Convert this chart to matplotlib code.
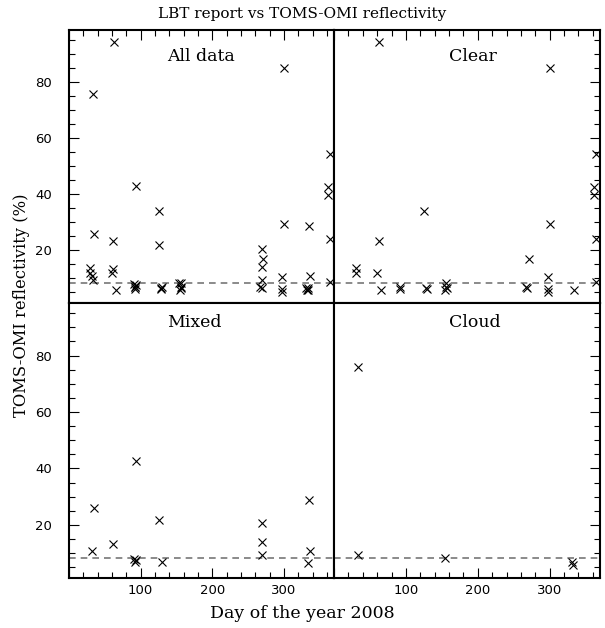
import matplotlib
matplotlib.use('Agg')
import matplotlib.pyplot as plt
from matplotlib.ticker import MultipleLocator, FixedLocator

# Clear sky reports: day of year, reflectivity (%)
clear_day = [30, 30, 60, 63, 62, 66, 92, 92, 128, 129, 125, 156, 156, 157, 155,
             267, 269, 271, 298, 298, 298, 300, 300, 334, 364, 362, 362, 364, 364]
clear_refl = [13.8, 11.8, 11.8, 94.2, 23.4, 5.7, 6.8, 6.2, 6.6, 6.3, 34.0, 8.3, 7.0, 6.5, 5.9,
              6.9, 6.6, 17.0, 10.5, 6.3, 5.2, 84.9, 29.5, 5.7, 54.5, 42.6, 39.9, 24.2, 8.8]

# Mixed reports
mixed_day = [35, 32, 61, 93, 91, 92, 93, 126, 130, 269, 270, 269, 335, 336, 333]
mixed_refl = [25.9, 10.8, 13.3, 42.8, 7.9, 7.0, 7.5, 21.8, 7.0, 20.6, 14.1, 9.4, 28.8, 10.9, 6.4]

# Cloudy reports
cloud_day = [34, 33, 154, 331, 332]
cloud_refl = [75.8, 9.4, 8.2, 6.7, 5.8]

clear_level = 8.2

all_day = clear_day + mixed_day + cloud_day
all_refl = clear_refl + mixed_refl + cloud_refl

fig = plt.figure(figsize=(6.05, 6.28), dpi=100)

x0, xm, x1 = 69/605, 334/605, 600/605
y1, ym, y0 = 1 - 30/628, 1 - 303/628, 1 - 578/628

# name, data, rect, position, label anchor
panels = [
    ('All data', all_day, all_refl, [x0, ym, xm - x0, y1 - ym], 'tl', (0.37, 0.886)),
    ('Clear', clear_day, clear_refl, [xm, ym, x1 - xm, y1 - ym], 'tr', (0.432, 0.886)),
    ('Mixed', mixed_day, mixed_refl, [x0, y0, xm - x0, ym - y0], 'bl', (0.37, 0.913)),
    ('Cloud', cloud_day, cloud_refl, [xm, y0, x1 - xm, ym - y0], 'br', (0.432, 0.913)),
]

for name, dx, dy, rect, pos, lab in panels:
    ax = fig.add_axes(rect)
    ax.plot(dx, dy, 'x', color='black', markersize=5.5, markeredgewidth=0.8)
    ax.axhline(clear_level, color='#777777', linestyle=(0, (4, 3)), linewidth=1.2, zorder=0)
    ax.set_xlim(0, 370)
    ax.set_ylim(1.2, 98.6)
    ax.xaxis.set_major_locator(FixedLocator([0, 100, 200, 300]))
    ax.xaxis.set_minor_locator(MultipleLocator(20))
    ax.yaxis.set_major_locator(MultipleLocator(20))
    ax.yaxis.set_minor_locator(MultipleLocator(5))
    for s in ax.spines.values():
        s.set_linewidth(1.5)

    top = pos[0] == 't'
    left = pos[1] == 'l'
    ax.tick_params(which='both', direction='in', width=0.8,
                   top=top, bottom=not top, left=left, right=not left,
                   labeltop=False, labelbottom=not top,
                   labelleft=left, labelright=False,
                   labelsize=9.5)
    ax.tick_params(which='major', length=7.5)
    ax.tick_params(which='minor', length=4)
    ax.tick_params(axis='y', which='major', pad=12)
    ax.tick_params(axis='x', which='major', pad=4)
    ax.set_xticklabels(['', '100', '200', '300'])
    ax.text(lab[0], lab[1], name, transform=ax.transAxes, ha='left', va='baseline',
            fontsize=12.5, family='DejaVu Serif')

fig.text(0.5, 1 - 14/628, 'LBT report vs TOMS-OMI reflectivity', ha='center', va='center',
         fontsize=11, family='DejaVu Serif')
fig.text(0.5, 1 - 613/628, 'Day of the year 2008', ha='center', va='center',
         fontsize=12.5, family='DejaVu Serif')
fig.text(22/605, 1 - 305/628, 'TOMS-OMI reflectivity (%)', ha='center', va='center',
         rotation=90, fontsize=11.8, family='DejaVu Serif')

plt.savefig('out.png', dpi=100)
